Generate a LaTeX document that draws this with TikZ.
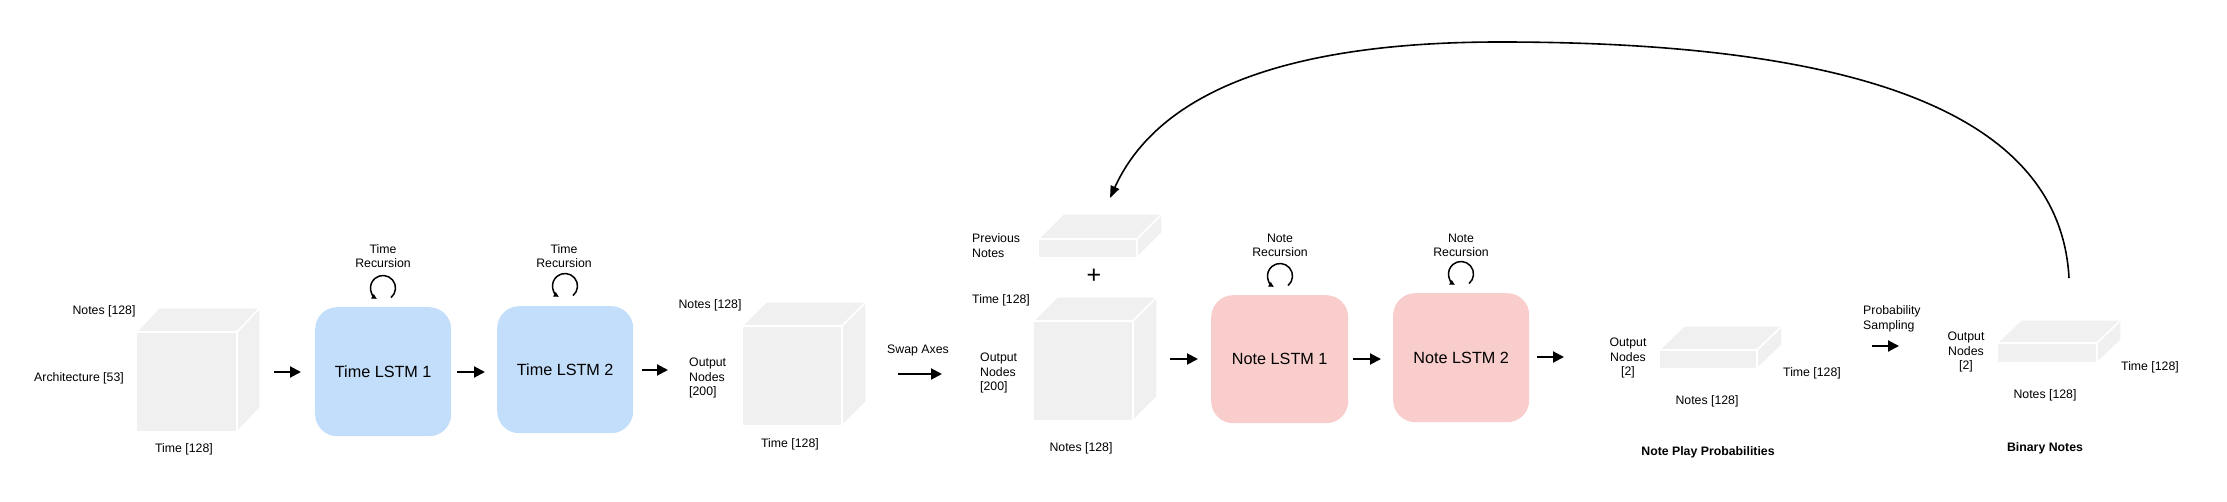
\documentclass[tikz,border=0pt]{standalone}
\usepackage{fontspec}
\setmainfont{Liberation Sans}
\usetikzlibrary{arrows.meta,calc}
\definecolor{lstmblue}{RGB}{194,222,250}
\definecolor{lstmpink}{RGB}{248,205,204}
\definecolor{cubegray}{RGB}{240,240,240}
\newcommand\cubefaces[3]{%
  \draw[cubeside] (#1.north west) -- ++(#2,#3) -- ($(#1.north east)+(#2,#3)$) -- (#1.north east) -- cycle;
  \draw[cubeside] (#1.north east) -- ++(#2,#3) -- ($(#1.south east)+(#2,#3)$) -- (#1.south east) -- cycle;
}
\begin{document}
\begin{tikzpicture}[x=1pt,y=-1pt,
  lbl/.style={font=\fontsize{12.3}{14.6}\selectfont, inner sep=0pt, align=center},
  lbll/.style={lbl, align=left, anchor=west},
  boldlbl/.style={font=\fontsize{12.3}{14.6}\selectfont\bfseries, inner sep=0pt},
  lstm/.style={rounded corners=22pt, inner sep=0pt, anchor=north west, font=\fontsize{16.2}{19}\selectfont},
  cubefront/.style={fill=cubegray, draw=white, line width=1.5pt, inner sep=0pt, outer sep=0pt, anchor=north west},
  cubeside/.style={fill=cubegray, draw=white, line width=1.5pt, line join=round},
  flow/.style={line width=2pt, -{Triangle[length=11pt,width=11pt]}},
  rec/.style={line width=1.5pt, -{Triangle[length=5pt,width=5pt]}},
  back/.style={line width=1.6pt, -{Triangle[length=12pt,width=9pt]}}
]
\useasboundingbox (0,0) rectangle (2227,502);
\fill[white] (0,0) rectangle (2227,502);

% cubes and slabs
\node[cubefront, minimum width=101pt, minimum height=100pt] (c1) at (136,332) {};
\cubefaces{c1}{23}{-24}
\node[cubefront, minimum width=100pt, minimum height=100pt] (c2) at (742,326) {};
\cubefaces{c2}{24}{-24}
\node[cubefront, minimum width=100pt, minimum height=100pt] (c3) at (1033,321) {};
\cubefaces{c3}{24}{-24}
\node[cubefront, minimum width=99pt, minimum height=19pt] (pn) at (1038,239) {};
\cubefaces{pn}{25}{-25}
\node[cubefront, minimum width=98pt, minimum height=19pt] (s1) at (1659,350) {};
\cubefaces{s1}{25}{-24}
\node[cubefront, minimum width=100pt, minimum height=20pt] (s2) at (1997,343) {};
\cubefaces{s2}{24}{-23}

% LSTM boxes
\node[lstm, fill=lstmblue, minimum width=136pt, minimum height=129pt] (tl1) at (315,307) {Time LSTM 1};
\node[lstm, fill=lstmblue, minimum width=136pt, minimum height=127pt] (tl2) at (497,306) {Time LSTM 2};
\node[lstm, fill=lstmpink, minimum width=137pt, minimum height=128pt] (nl1) at (1211,295) {Note LSTM 1};
\node[lstm, fill=lstmpink, minimum width=136pt, minimum height=129pt] (nl2) at (1393,293) {Note LSTM 2};

% labels
\node[lbl] (l1) at (104,311) {Notes [128]};
\node[lbl] (l2) at (79,378) {Architecture [53]};
\node[lbl] (l3) at (184,449) {Time [128]};
\node[lbl] (r1t) at (383,256) {Time\\Recursion};
\node[lbl] (r2t) at (564,256) {Time\\Recursion};
\node[lbl] (l6) at (710,305) {Notes [128]};
\node[lbll] (l7) at (689,378) {Output\\Nodes\\{[200]}};
\node[lbl] (l8) at (790,444) {Time [128]};
\node[lbl] (l9) at (918,350) {Swap Axes};
\node[lbll] (l10) at (972,245.5) {Previous\\Notes};
\node[lbll] (l11) at (972,300) {Time [128]};
\node[lbll] (l12) at (980,373) {Output\\Nodes\\{[200]}};
\node[lbl] (l13) at (1081,448) {Notes [128]};
\node[lbl] (r3t) at (1280,245.5) {Note\\Recursion};
\node[lbl] (r4t) at (1461,245.5) {Note\\Recursion};
\node[lbl] (l16) at (1628,358) {Output\\Nodes\\{[2]}};
\node[lbl] (l17) at (1812,373) {Time [128]};
\node[lbl] (l18) at (1707,401) {Notes [128]};
\node[boldlbl] (l19) at (1708,452) {Note Play Probabilities};
\node[lbll] (l20) at (1863,319) {Probability\\Sampling};
\node[lbl] (l21) at (1966,352) {Output\\Nodes\\{[2]}};
\node[lbl] (l22) at (2150,367) {Time [128]};
\node[lbl] (l23) at (2045,395) {Notes [128]};
\node[boldlbl] (l24) at (2045,448) {Binary Notes};
\node[font=\fontsize{25}{25}\selectfont, inner sep=0pt] (plus) at (1094,276) {+};

% flow arrows
\coordinate (a1s) at (274,372); \coordinate (a1e) at (301,372);
\coordinate (a2s) at (457,372); \coordinate (a2e) at (485,372);
\coordinate (a3s) at (642,370); \coordinate (a3e) at (668,370);
\coordinate (a4s) at (898,374); \coordinate (a4e) at (942,374);
\coordinate (a5s) at (1170,359); \coordinate (a5e) at (1198,359);
\coordinate (a6s) at (1353,359); \coordinate (a6e) at (1381,359);
\coordinate (a7s) at (1537,357); \coordinate (a7e) at (1564,357);
\coordinate (a8s) at (1872,346); \coordinate (a8e) at (1899,346);
\draw[flow] (a1s) -- (a1e);
\draw[flow] (a2s) -- (a2e);
\draw[flow] (a3s) -- (a3e);
\draw[flow] (a4s) -- (a4e);
\draw[flow] (a5s) -- (a5e);
\draw[flow] (a6s) -- (a6e);
\draw[flow] (a7s) -- (a7e);
\draw[flow] (a8s) -- (a8e);

% recursion loops
\coordinate (rc1) at (383,288);
\coordinate (rc2) at (565,286);
\coordinate (rc3) at (1280,276);
\coordinate (rc4) at (1461,274);
\foreach \c in {rc1,rc2,rc3,rc4}
  \draw[rec] ($(\c)+(50:12.5)$) arc[start angle=50, end angle=-240, radius=12.5];

% feedback arc
\coordinate (fbs) at (2069,278);
\coordinate (fbm) at (1500,42);
\coordinate (fbe) at (1110,198);
\draw[back] (fbs) .. controls (2060,110) and (1850,42) .. (fbm) .. controls (1250,42) and (1150,110) .. (fbe);
\end{tikzpicture}
\end{document}
